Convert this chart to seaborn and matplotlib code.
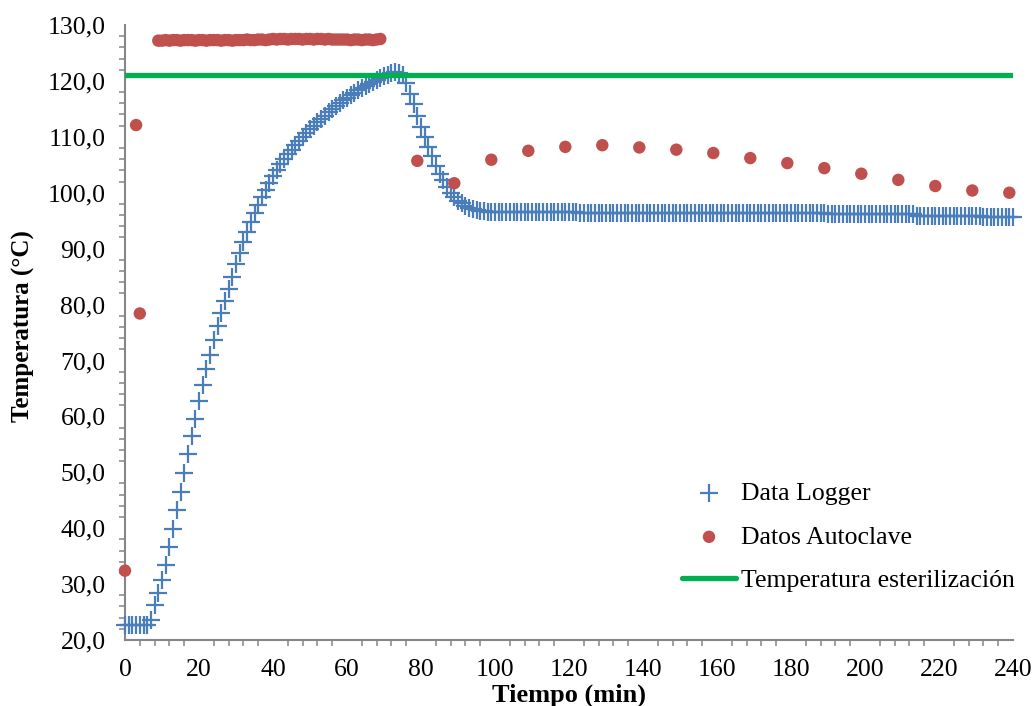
import matplotlib
matplotlib.use("Agg")
import matplotlib.pyplot as plt
from matplotlib.ticker import MultipleLocator, FuncFormatter
import numpy as np
import pandas as pd
import seaborn as sns

# Data logger: one reading per minute, 0..240 min
logger_time = list(range(0, 241))
logger_temp = [
    22.6, 22.6, 22.6, 22.6, 22.6, 22.6, 22.7, 23.5, 26.3, 28.4,
    30.7, 33.4, 36.7, 39.8, 43.2, 46.5, 49.9, 53.2, 56.5, 59.6,
    62.7, 65.6, 68.4, 71.0, 73.6, 76.1, 78.4, 80.6, 82.7, 85.0,
    87.2, 89.3, 91.2, 93.0, 94.7, 96.3, 97.8, 99.2, 100.5, 101.8,
    103.0, 104.1, 105.1, 106.0, 106.9, 107.7, 108.5, 109.3, 110.0, 110.7,
    111.4, 112.0, 112.6, 113.2, 113.8, 114.4, 115.0, 115.5, 116.0, 116.5,
    117.0, 117.5, 117.9, 118.3, 118.7, 119.1, 119.5, 119.8, 120.2, 120.5,
    120.8, 121.1, 121.4, 121.6, 121.5, 121.0, 119.6, 117.7, 115.8, 113.7,
    111.8, 109.9, 108.1, 106.5, 104.7, 103.4, 102.2, 101.1, 100.0, 99.3,
    98.6, 98.1, 97.6, 97.3, 97.1, 96.9, 96.8, 96.7, 96.6, 96.6,
    96.6, 96.6, 96.6, 96.6, 96.6, 96.6, 96.6, 96.6, 96.6, 96.6,
    96.6, 96.6, 96.6, 96.6, 96.6, 96.6, 96.6, 96.6, 96.6, 96.6,
    96.6, 96.6, 96.6, 96.3, 96.3, 96.3, 96.3, 96.3, 96.3, 96.3,
    96.3, 96.3, 96.3, 96.3, 96.3, 96.3, 96.3, 96.3, 96.3, 96.3,
    96.3, 96.3, 96.3, 96.3, 96.3, 96.3, 96.3, 96.3, 96.3, 96.3,
    96.3, 96.3, 96.3, 96.3, 96.3, 96.3, 96.3, 96.3, 96.3, 96.3,
    96.3, 96.3, 96.3, 96.3, 96.3, 96.3, 96.3, 96.3, 96.3, 96.3,
    96.3, 96.3, 96.3, 96.3, 96.3, 96.3, 96.3, 96.3, 96.3, 96.3,
    96.3, 96.3, 96.3, 96.3, 96.3, 96.3, 96.3, 96.3, 96.3, 96.3,
    96.2, 96.2, 96.2, 96.2, 96.2, 96.2, 96.2, 96.2, 96.2, 96.2,
    96.2, 96.2, 96.2, 96.2, 96.2, 96.2, 96.2, 96.2, 96.2, 96.2,
    96.2, 96.2, 96.2, 96.2, 95.9, 95.9, 95.9, 95.9, 95.9, 95.9,
    95.9, 95.9, 95.9, 95.9, 95.9, 95.9, 95.9, 95.9, 95.9, 95.9,
    95.9, 95.9, 95.6, 95.6, 95.6, 95.6, 95.6, 95.6, 95.6, 95.6,
    95.6,
]

# Autoclave controller readings
autoclave_time = [
    0, 3, 4,
    9, 10, 11, 12, 13, 14, 15, 16, 17, 18,
    19, 20, 21, 22, 23, 24, 25, 26, 27, 28,
    29, 30, 31, 32, 33, 34, 35, 36, 37, 38,
    39, 40, 41, 42, 43, 44, 45, 46, 47, 48,
    49, 50, 51, 52, 53, 54, 55, 56, 57, 58,
    59, 60, 61, 62, 63, 64, 65, 66, 67, 68, 69,
    79, 89, 99, 109, 119, 129, 139, 149, 159, 169, 179, 189, 199,
    209, 219, 229, 239,
]
autoclave_temp = [
    32.4, 112.1, 78.4,
    127.2, 127.2, 127.3, 127.2, 127.3, 127.3, 127.2, 127.3, 127.3, 127.3,
    127.2, 127.3, 127.3, 127.2, 127.3, 127.3, 127.3, 127.2, 127.3, 127.3,
    127.2, 127.3, 127.3, 127.3, 127.4, 127.3, 127.3, 127.4, 127.4, 127.3,
    127.4, 127.5, 127.4, 127.5, 127.5, 127.4, 127.5, 127.5, 127.5, 127.4,
    127.5, 127.5, 127.4, 127.5, 127.5, 127.4, 127.5, 127.4, 127.4, 127.4,
    127.4, 127.4, 127.3, 127.4, 127.4, 127.3, 127.4, 127.4, 127.3, 127.4, 127.5,
    105.7, 101.7, 105.9, 107.5, 108.2, 108.5, 108.1, 107.7, 107.1,
    106.2, 105.3, 104.4, 103.4, 102.3, 101.2, 100.4, 100.0,
]

# Sterilization set point
setpoint_time = [0, 240]
setpoint_temp = [121.0, 121.0]

x_ticks = list(range(0, 241, 20))
y_ticks = list(range(20, 131, 10))

sns.set_theme(style="white")
plt.rcParams["font.family"] = ["Liberation Serif", "DejaVu Serif"]
plt.rcParams["text.color"] = "black"
plt.rcParams["axes.labelcolor"] = "black"

BLUE = "#4A7EBB"
RED = "#C0504D"
GREEN = "#00B050"
AXIS_GRAY = "#868686"

fig = plt.figure(figsize=(10.36, 7.06), dpi=100)
ax = fig.add_axes([125 / 1036, 1 - 640 / 706, 888 / 1036, 615 / 706])

logger_df = pd.DataFrame({"Tiempo": logger_time, "Temp": logger_temp})
autoclave_df = pd.DataFrame({"Tiempo": autoclave_time, "Temp": autoclave_temp})
setpoint_df = pd.DataFrame({"Tiempo": setpoint_time, "Temp": setpoint_temp})

sns.scatterplot(data=logger_df, x="Tiempo", y="Temp", ax=ax, marker="+",
                color=BLUE, s=165, linewidth=1.6, label="Data Logger",
                zorder=3, clip_on=False)
sns.scatterplot(data=autoclave_df, x="Tiempo", y="Temp", ax=ax, marker="o",
                color=RED, s=80, edgecolor="none", label="Datos Autoclave",
                zorder=4, clip_on=False)
sns.lineplot(data=setpoint_df, x="Tiempo", y="Temp", ax=ax, color=GREEN,
             linewidth=3.8, label="Temperatura esterilización", zorder=5)

ax.set_xlim(0, 240)
ax.set_ylim(20, 130)
ax.set_xticks(x_ticks)
ax.set_yticks(y_ticks)
ax.xaxis.set_minor_locator(MultipleLocator(4))
ax.yaxis.set_minor_locator(MultipleLocator(2))
ax.yaxis.set_major_formatter(FuncFormatter(lambda v, _: f"{v:.1f}".replace(".", ",")))

for side in ("top", "right"):
    ax.spines[side].set_visible(False)
for side in ("left", "bottom"):
    ax.spines[side].set_color(AXIS_GRAY)
    ax.spines[side].set_linewidth(1.5)

ax.tick_params(which="major", direction="inout", length=10, width=1.3,
               color=AXIS_GRAY, labelsize=18.5, labelcolor="black")
ax.tick_params(axis="y", which="major", pad=9)
ax.tick_params(axis="x", which="major", pad=9)
ax.tick_params(which="minor", direction="out", length=4, width=1.1,
               color=AXIS_GRAY, left=True, bottom=True)

ax.set_xlabel("Tiempo (min)", fontsize=19, fontweight="bold", color="black")
ax.set_ylabel("Temperatura (°C)", fontsize=18, fontweight="bold", color="black")
ax.xaxis.set_label_coords(0.5, -0.071)
ax.yaxis.set_label_coords(-0.101, 0.511)

leg = ax.legend(loc="upper left", bbox_to_anchor=(0.636, 0.350),
                bbox_transform=fig.transFigure, frameon=False, fontsize=18.5,
                handlelength=2.1, handletextpad=0.2, labelspacing=0.8,
                borderpad=0.4)
for t in leg.get_texts():
    t.set_color("black")

fig.savefig("out.png", dpi=100)
